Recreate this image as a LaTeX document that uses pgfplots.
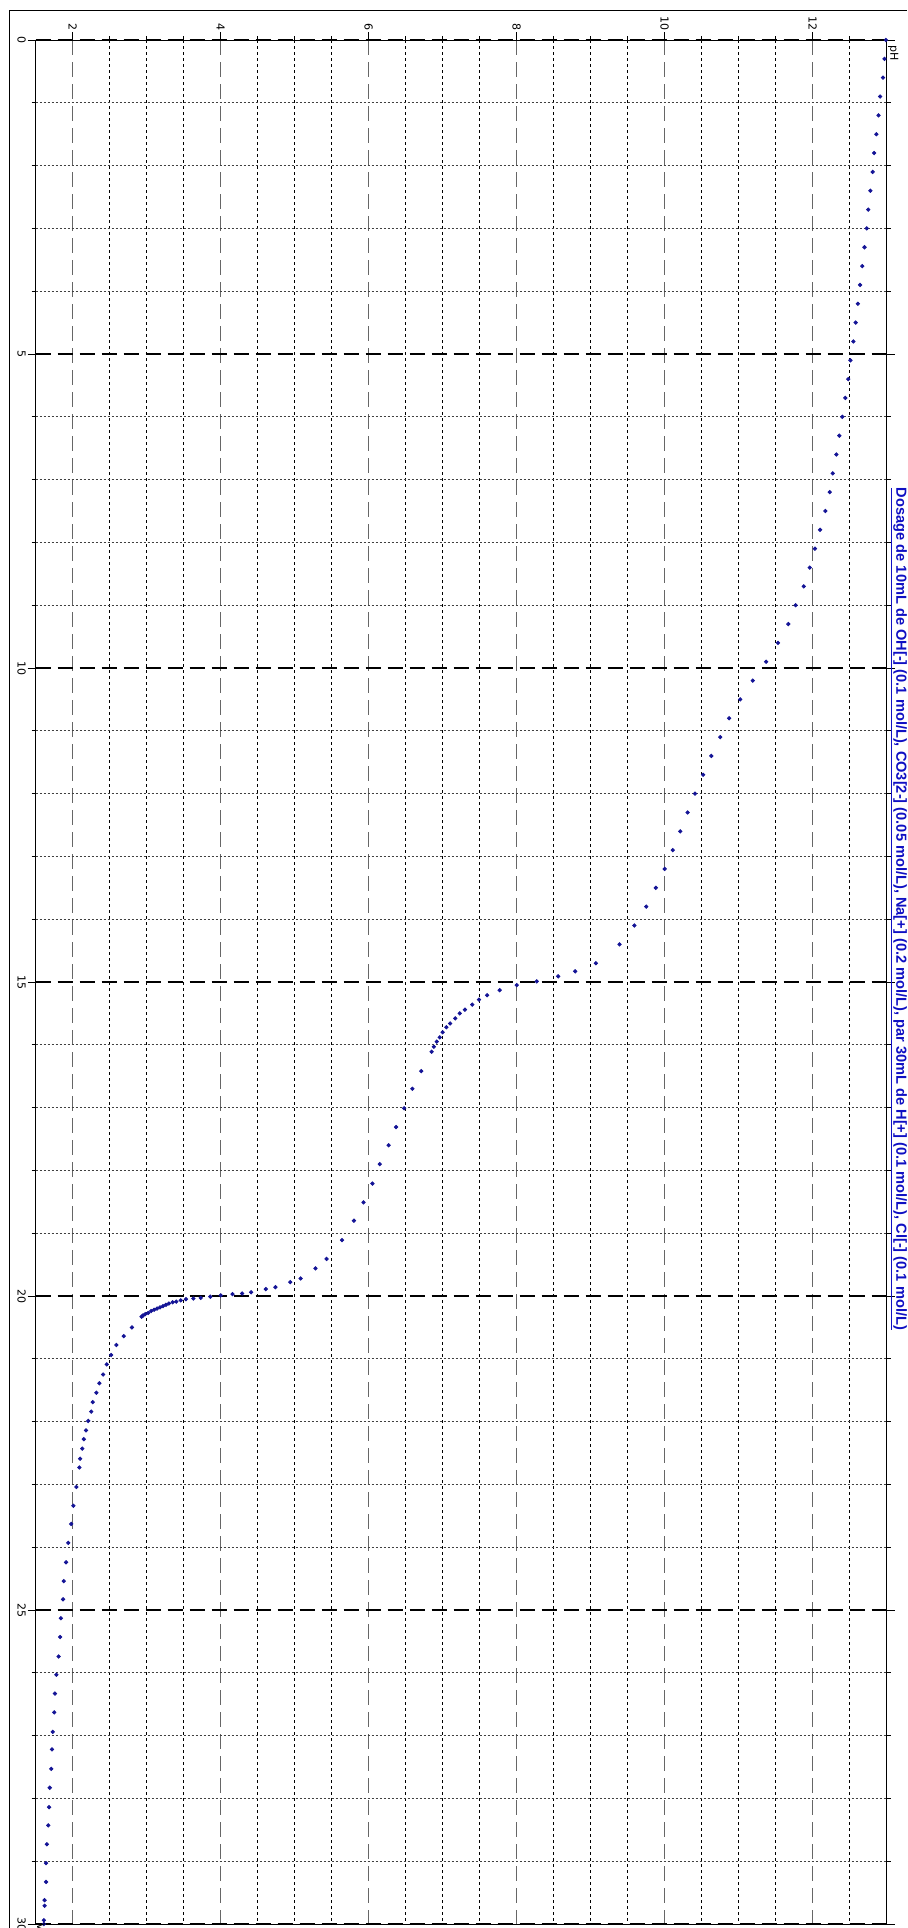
\documentclass[border=0pt]{standalone}
\usepackage{pgfplots}
\pgfplotsset{compat=1.18}
\usepackage{pgfplotstable}
\usepackage{fontspec}
\setmainfont{DejaVu Sans}
\newfontfamily\titlefont{Liberation Sans}
\definecolor{ptblue}{RGB}{20,20,150}
\definecolor{titleblue}{RGB}{15,15,195}

\pgfplotstableread{
V pH
0 12.99
0.3 12.97
0.6 12.95
0.9 12.91
1.2 12.89
1.5 12.86
1.8 12.83
2.1 12.81
2.4 12.78
2.7 12.75
3.0 12.73
3.3 12.70
3.6 12.67
3.9 12.64
4.2 12.61
4.5 12.58
4.8 12.55
5.1 12.51
5.4 12.48
5.7 12.44
6.0 12.40
6.3 12.36
6.6 12.32
6.9 12.27
7.2 12.23
7.5 12.17
7.8 12.10
8.1 12.03
8.4 11.96
8.7 11.88
9.0 11.77
9.3 11.67
9.6 11.53
9.9 11.37
10.2 11.19
10.5 11.02
10.8 10.87
11.1 10.75
11.4 10.63
11.7 10.52
12.0 10.41
12.3 10.31
12.6 10.21
12.9 10.11
13.2 10.00
13.5 9.88
13.8 9.75
14.1 9.59
14.4 9.39
14.7 9.07
14.83 8.79
14.91 8.56
14.99 8.27
15.05 8.00
15.13 7.77
15.21 7.60
15.28 7.49
15.36 7.40
15.44 7.30
15.50 7.23
15.58 7.17
15.66 7.10
15.72 7.05
15.80 7.00
15.88 6.96
15.95 6.92
16.03 6.88
16.11 6.85
16.42 6.71
16.70 6.59
17.01 6.48
17.31 6.37
17.60 6.27
17.90 6.15
18.21 6.05
18.51 5.93
18.80 5.80
19.11 5.64
19.41 5.43
19.56 5.28
19.72 5.08
19.78 4.94
19.86 4.74
19.89 4.61
19.94 4.41
19.96 4.29
19.97 4.16
19.99 4.00
20.01 3.86
20.03 3.73
20.04 3.63
20.05 3.53
20.07 3.46
20.09 3.40
20.10 3.35
20.12 3.30
20.14 3.26
20.16 3.22
20.18 3.18
20.20 3.14
20.22 3.10
20.24 3.06
20.27 3.02
20.29 2.98
20.31 2.95
20.33 2.93
20.50 2.80
20.64 2.69
20.78 2.59
20.94 2.52
21.09 2.46
21.25 2.41
21.39 2.36
21.54 2.32
21.69 2.27
21.84 2.25
21.99 2.21
22.14 2.18
22.28 2.15
22.43 2.13
22.59 2.10
22.73 2.09
23.04 2.05
23.34 2.01
23.63 1.98
23.93 1.94
24.24 1.91
24.54 1.88
24.83 1.87
25.13 1.84
25.43 1.83
25.74 1.81
26.03 1.78
26.33 1.76
26.63 1.75
26.94 1.73
27.22 1.72
27.53 1.71
27.83 1.69
28.14 1.68
28.43 1.67
28.73 1.65
29.03 1.64
29.33 1.64
29.62 1.62
29.71 1.62
29.94 1.61
30.00 1.61
}\titration

\begin{document}
\begin{tikzpicture}[x=1pt,y=1pt]
\useasboundingbox (0,0) rectangle (453.5,964);
\draw[line width=0.5pt] (4.5,0) -- (4.5,958.5) -- (453.5,958.5);
\begin{axis}[
  at={(17.85pt,2pt)}, anchor=south west,
  scale only axis, width=425.5pt, height=942pt,
  xmin=1.5, xmax=13, ymin=0, ymax=30, y dir=reverse,
  xtick={2,4,...,12},
  minor xtick={2.5,3,3.5,4.5,5,5.5,6.5,7,7.5,8.5,9,9.5,10.5,11,11.5,12.5},
  ytick={0,5,...,30},
  minor ytick={1,2,3,4,6,7,8,9,11,12,13,14,16,17,18,19,21,22,23,24,26,27,28,29},
  grid=both,
  major x grid style={black!60, dash pattern=on 7.5pt off 3.5pt, line width=0.6pt},
  minor x grid style={black, dash pattern=on 1.5pt off 1.5pt, line width=0.4pt},
  major y grid style={black, dash pattern=on 7.5pt off 3.5pt, line width=0.6pt},
  minor y grid style={black!75, dash pattern=on 1pt off 1pt, line width=0.45pt},
  tick align=outside,
  major tick length=4pt, minor tick length=2pt,
  every tick/.style={black, line width=0.4pt},
  xtick pos=right, xticklabel pos=right,
  ytick pos=both, yticklabel pos=left,
  axis line style={line width=0.5pt, black},
  /pgf/number format/assume math mode=true,
  xticklabel style={rotate=-90, anchor=east, inner sep=0.8pt, font=\fontsize{5.5}{6}\selectfont},
  yticklabel style={rotate=-90, anchor=north, inner sep=0.8pt, font=\fontsize{5.5}{6}\selectfont},
  clip mode=individual,
]
\addplot[only marks, mark=*, mark size=0.85pt, color=ptblue] table[x=pH, y=V] {\titration};
\node[rotate=-90, anchor=south west, inner sep=0.5pt, font=\fontsize{5.5}{6}\selectfont, xshift=2pt] at (axis cs:13,0) {pH};
\node[rotate=-90, anchor=south east, inner sep=0.5pt, font=\fontsize{5.5}{6}\selectfont, xshift=4pt] at (axis cs:1.5,30) {V};
\end{axis}
\node[rotate=-90, text=titleblue, inner sep=0pt] at (449.3,509.5)
 {\resizebox{421pt}{!}{\titlefont\bfseries\underline{Dosage de 10mL de OH[-] (0.1 mol/L), CO3[2-] (0.05 mol/L), Na[+] (0.2 mol/L), par 30mL de H[+] (0.1 mol/L), Cl[-] (0.1 mol/L)}}};
\end{tikzpicture}
\end{document}
